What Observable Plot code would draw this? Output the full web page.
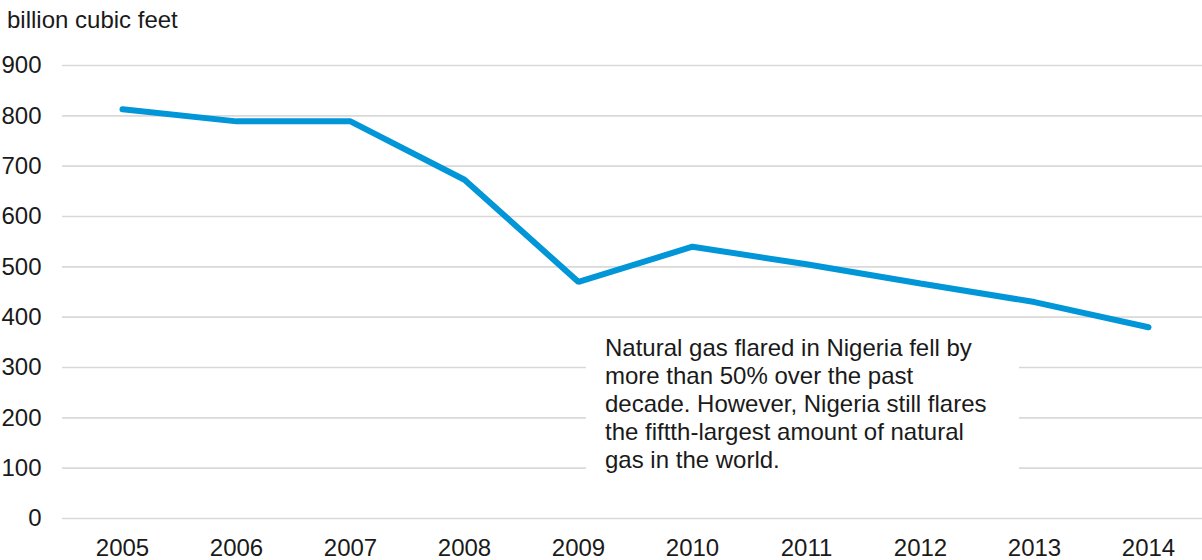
<!DOCTYPE html>
<html>
<head>
<meta charset="utf-8">
<script src="https://cdn.jsdelivr.net/npm/d3@7"></script>
<script src="https://cdn.jsdelivr.net/npm/@observablehq/plot@0.6"></script>
<style>
  body { margin: 0; background: #fff; font-family: "Liberation Sans", Arial, sans-serif; }
  #wrap { position: relative; width: 1202px; height: 560px; }
  #ylabel { position: absolute; left: 7px; top: 0; height: 40px; line-height: 40px; font-size: 24px; color: #1a1a1a; }
  #chart { position: absolute; left: 0; top: 40px; }
  #note { position: absolute; left: 586px; top: 326px; width: 414px; padding: 8px 0 0 19px; height: 150px;
          background: #fff; font-size: 24px; line-height: 28px; color: #1a1a1a; }
</style>
</head>
<body>
<div id="wrap">
  <div id="ylabel">billion cubic feet</div>
  <div id="chart"></div>
  <div id="note">Natural gas flared in Nigeria fell by<br>more than 50% over the past<br>decade. However, Nigeria still flares<br>the fiftth-largest amount of natural<br>gas in the world.</div>
</div>
<script>
const years = ["2005","2006","2007","2008","2009","2010","2011","2012","2013","2014"];
const flared = [813, 789, 789, 673, 470, 540, 505, 467, 430, 380];
const yTicks = [0, 100, 200, 300, 400, 500, 600, 700, 800, 900];

const data = years.map((y, i) => ({year: y, value: flared[i]}));

const chart = Plot.plot({
  width: 1202,
  height: 520,
  marginLeft: 62,
  marginRight: 0,
  marginTop: 25,
  marginBottom: 42,
  style: {fontFamily: "'Liberation Sans', Arial, sans-serif", fontSize: "24px", color: "#1a1a1a", background: "#fff"},
  x: {type: "point", domain: years, range: [119, 1150], padding: 0, label: null},
  y: {domain: [0, 900], label: null},
  marks: [
    Plot.ruleY(yTicks, {stroke: "#d9d9d9", strokeWidth: 1.6}),
    Plot.axisY({ticks: yTicks, tickSize: 0, tickPadding: 21, label: null, fontSize: 24}),
    Plot.axisX({tickSize: 0, tickPadding: 20, label: null, fontSize: 24}),
    Plot.line(data, {x: "year", y: "value", stroke: "#0096d7", strokeWidth: 6, strokeLinecap: "round", strokeLinejoin: "miter"})
  ]
});
document.getElementById("chart").appendChild(chart);
</script>
</body>
</html>
